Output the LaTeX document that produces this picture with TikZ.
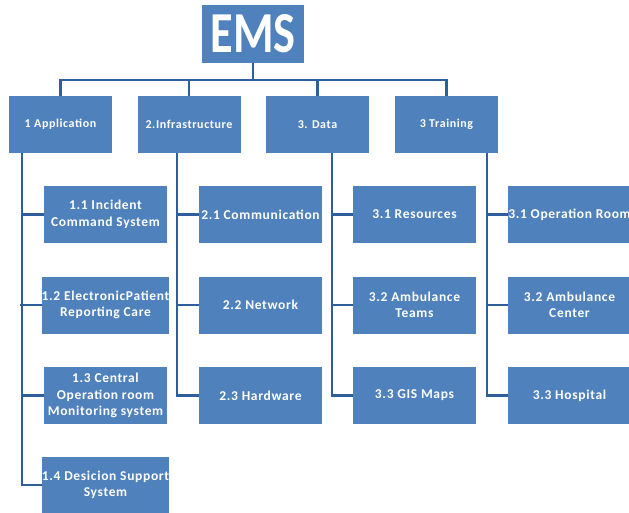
\documentclass[tikz,border=0pt]{standalone}
\usepackage{fontspec}
\setmainfont{Carlito}[LetterSpace=5]
\newfontfamily\emsfont{Carlito}[FakeStretch=0.8]
\definecolor{emsblue}{HTML}{4F81BD}
\definecolor{linkblue}{HTML}{2F5E9C}
\tikzset{
  box/.style={fill=emsblue, text=white, inner sep=0pt, align=center,
    font=\fontsize{13.5}{16.5}\selectfont\bfseries},
  topbox/.style={box, minimum width=103pt, minimum height=57pt,
    font=\fontsize{12}{14}\selectfont\bfseries},
  subbox/.style={box, minimum width=123pt, minimum height=57pt},
  link/.style={draw=linkblue, line width=2.4pt}
}
\begin{document}
\begin{tikzpicture}[x=1pt,y=-1pt]
  \useasboundingbox (0,0) rectangle (629,513);
  % root
  \node[fill=emsblue, text=white, minimum width=102pt, minimum height=58pt,
    inner sep=0pt, font=\emsfont\fontsize{58}{58}\selectfont\bfseries] (ems) at (253,34) {EMS};
  % main branches
  \node[topbox] (app) at (60.5,124.5) {1 Application};
  \node[topbox] (infra) at (189,124.5) {2.Infrastructure};
  \node[topbox] (data) at (317.5,124.5) {3. Data};
  \node[topbox] (train) at (446.5,124.5) {3 Training};
  % application
  \node[subbox] (app1) at (105.5,214.5) {1.1 Incident\\Command System};
  \node[subbox] (app2) at (105.5,305) {1.2 ElectronicPatient\\Reporting Care};
  \node[subbox] (app3) at (105.5,395.5) {1.3 Central\\Operation room\\Monitoring system};
  \node[subbox] (app4) at (105.5,485) {1.4 Desicion Support\\System};
  % infrastructure
  \node[subbox] (infra1) at (260.5,214.5) {2.1 Communication};
  \node[subbox] (infra2) at (260.5,305) {2.2 Network};
  \node[subbox] (infra3) at (260.5,395.5) {2.3 Hardware};
  % data
  \node[subbox] (data1) at (414.5,214.5) {3.1 Resources};
  \node[subbox] (data2) at (414.5,305) {3.2 Ambulance\\Teams};
  \node[subbox] (data3) at (414.5,395.5) {3.3 GIS Maps};
  % training
  \node[subbox] (train1) at (569.5,214.5) {3.1 Operation Room};
  \node[subbox] (train2) at (569.5,305) {3.2 Ambulance\\Center};
  \node[subbox] (train3) at (569.5,395.5) {3.3 Hospital};
  % bus
  \coordinate (bus) at (253,80);
  \draw[link] (ems.south) -- (bus);
  \draw[link] (app.north) |- (bus) -| (train.north);
  \draw[link] (infra.north) -- (infra.north |- bus);
  \draw[link] (data.north) -- (data.north |- bus);
  % side lines
  \draw[link] ([xshift=-22pt]app.south -| app1.west) |- (app4.west);
  \draw[link] ([xshift=-22pt]app1.west) -- (app1.west);
  \draw[link] ([xshift=-22pt]app2.west) -- (app2.west);
  \draw[link] ([xshift=-22pt]app3.west) -- (app3.west);
  \draw[link] ([xshift=-22pt]infra.south -| infra1.west) |- (infra3.west);
  \draw[link] ([xshift=-22pt]infra1.west) -- (infra1.west);
  \draw[link] ([xshift=-22pt]infra2.west) -- (infra2.west);
  \draw[link] ([xshift=-21pt]data.south -| data1.west) |- (data3.west);
  \draw[link] ([xshift=-21pt]data1.west) -- (data1.west);
  \draw[link] ([xshift=-21pt]data2.west) -- (data2.west);
  \draw[link] ([xshift=-21pt]train.south -| train1.west) |- (train3.west);
  \draw[link] ([xshift=-21pt]train1.west) -- (train1.west);
  \draw[link] ([xshift=-21pt]train2.west) -- (train2.west);
\end{tikzpicture}
\end{document}
